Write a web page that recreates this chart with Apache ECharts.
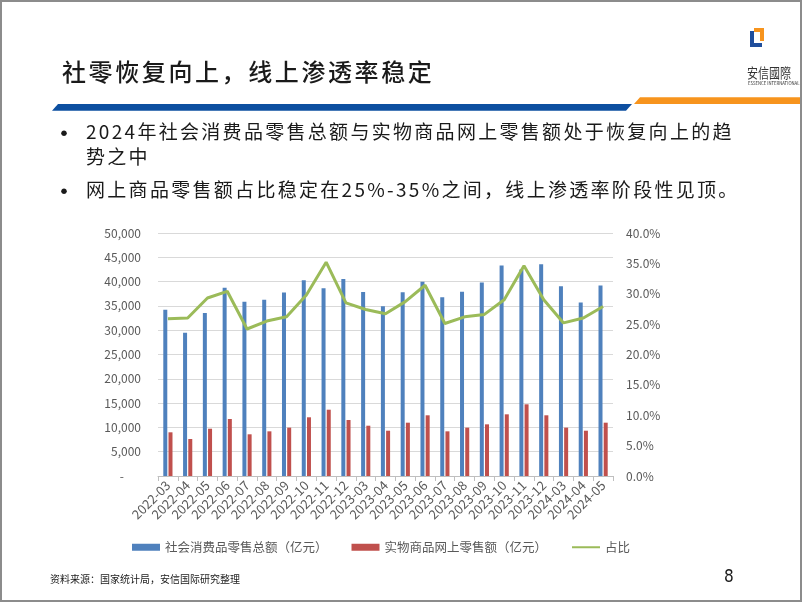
<!DOCTYPE html>
<html><head><meta charset="utf-8">
<script src="https://cdn.jsdelivr.net/npm/echarts@6/dist/echarts.min.js"></script>
<style>
html,body{margin:0;padding:0;background:#fff;}
#page{position:relative;width:802px;height:602px;box-sizing:border-box;border:2px solid #8c8c8c;overflow:hidden;font-family:"Noto Sans CJK SC","Noto Sans",sans-serif;}
#chart{position:absolute;left:-2px;top:-2px;width:802px;height:602px;}
.t{position:absolute;white-space:nowrap;color:#1a1a1a;}
</style></head>
<body>
<div id="page">
<svg style="position:absolute;left:-2px;top:-2px" width="802" height="602">
  <polygon points="52,110.7 58,104 632,104 626,110.7" fill="#0D4FA0"/>
  <polygon points="634,104 640,97.3 804,97.3 804,104" fill="#F7941D"/>
  <rect x="750" y="31" width="4" height="16" fill="#1F4E9C"/>
  <rect x="750" y="43" width="12" height="4" fill="#1F4E9C"/>
  <rect x="754" y="28" width="10" height="4" fill="#F7941D"/>
  <rect x="760" y="28" width="4" height="13" fill="#F7941D"/>
</svg>
<div id="chart"></div>
<div class="t" style="left:60px;top:51px;font-size:24px;font-weight:500;letter-spacing:2.6px;">社零恢复向上，线上渗透率稳定</div>
<div class="t" style="left:745px;top:61px;font-size:11px;color:#333;line-height:14px;transform:scaleY(1.25);transform-origin:0 0;">安信國際</div>
<div class="t" style="left:746px;top:79px;font-size:8px;color:#333;line-height:8px;transform:scale(0.53,0.6);transform-origin:0 0;">ESSENCE INTERNATIONAL</div>
<div class="t" style="left:51px;top:113px;font-size:22px;font-weight:bold;">•</div>
<div class="t" style="left:84px;top:115px;font-size:19px;letter-spacing:2.3px;">2024年社会消费品零售总额与实物商品网上零售额处于恢复向上的趋</div>
<div class="t" style="left:84px;top:140px;font-size:19px;letter-spacing:2.3px;">势之中</div>
<div class="t" style="left:51px;top:171px;font-size:22px;font-weight:bold;">•</div>
<div class="t" style="left:84px;top:173px;font-size:19px;letter-spacing:2.3px;">网上商品零售额占比稳定在25%-35%之间，线上渗透率阶段性见顶。</div>
<div class="t" style="left:48px;top:569px;font-size:10px;">资料来源：国家统计局，安信国际研究整理</div>
<div class="t" style="left:722px;top:564px;font-size:17px;font-family:'Liberation Sans Narrow','DejaVu Sans Condensed',sans-serif;">8</div>
</div>
<script>
var categories = ['2022-03','2022-04','2022-05','2022-06','2022-07','2022-08','2022-09','2022-10','2022-11','2022-12','2023-03','2023-04','2023-05','2023-06','2023-07','2023-08','2023-09','2023-10','2023-11','2023-12','2024-03','2024-04','2024-05'];
var totalRetail = [34233,29483,33547,38742,35870,36258,37745,40271,38615,40542,37855,34910,37803,39951,36761,37933,39826,43333,42505,43550,39020,35699,39211];
var onlineRetail = [8990,7610,9730,11730,8580,9190,9950,12080,13640,11520,10350,9320,10970,12490,9190,9950,10630,12690,14750,12490,9950,9320,10970];
var sharePct = [25.9,26.0,29.3,30.4,24.2,25.5,26.2,29.8,35.2,28.5,27.4,26.7,28.7,31.4,25.1,26.2,26.6,29.0,34.6,29.0,25.2,26.0,27.9];
var seriesNames = ['社会消费品零售总额（亿元）','实物商品网上零售额（亿元）','占比'];

var chart = echarts.init(document.getElementById('chart'), null, {renderer:'canvas'});
var txt = '#595959', fam = '"Noto Sans CJK SC","Noto Sans",sans-serif';
chart.setOption({
  animation:false,
  textStyle:{fontFamily:fam},
  grid:{left:158,right:189,top:233,bottom:126,containLabel:false},
  legend:{
    left:127, top:536, itemGap:24, itemWidth:28, itemHeight:7,
    textStyle:{color:txt,fontSize:12.5,fontFamily:fam},
    data:[{name:seriesNames[0],icon:'rect'},{name:seriesNames[1],icon:'rect'},
          {name:seriesNames[2],itemStyle:{color:'rgba(0,0,0,0)',borderWidth:0,opacity:0}}]
  },
  xAxis:{
    type:'category', data:categories, boundaryGap:true,
    axisLine:{lineStyle:{color:'#BFBFBF'}},
    axisTick:{show:true,length:5,lineStyle:{color:'#BFBFBF'}},
    axisLabel:{rotate:45,color:txt,fontSize:13,margin:7,interval:0,fontFamily:fam}
  },
  yAxis:[{
    type:'value', min:0, max:50000, interval:5000,
    axisLine:{show:false}, axisTick:{show:false},
    splitLine:{lineStyle:{color:'#D9D9D9'}},
    axisLabel:{color:txt,fontSize:12,margin:17,fontFamily:fam,
      formatter:function(v){return v===0?'{d|-}':v.toLocaleString('en-US');},
      rich:{d:{color:txt,fontSize:12,padding:[0,17,0,0]}}}
  },{
    type:'value', min:0, max:40, interval:5, position:'right',
    axisLine:{show:false}, axisTick:{show:false}, splitLine:{show:false},
    axisLabel:{color:txt,fontSize:12,margin:13,fontFamily:fam,
      formatter:function(v){return v.toFixed(1)+'%';}}
  }],
  series:[
    {name:seriesNames[0],type:'bar',data:totalRetail,barWidth:4,barGap:'30%',itemStyle:{color:'#4F81BD'}},
    {name:seriesNames[1],type:'bar',data:onlineRetail,barWidth:4,barGap:'30%',itemStyle:{color:'#C0504D'}},
    {name:seriesNames[2],type:'line',yAxisIndex:1,data:sharePct,symbol:'none',lineStyle:{color:'#9BBB59',width:3},itemStyle:{color:'#9BBB59'}}
  ]
});
</script>
</body></html>
